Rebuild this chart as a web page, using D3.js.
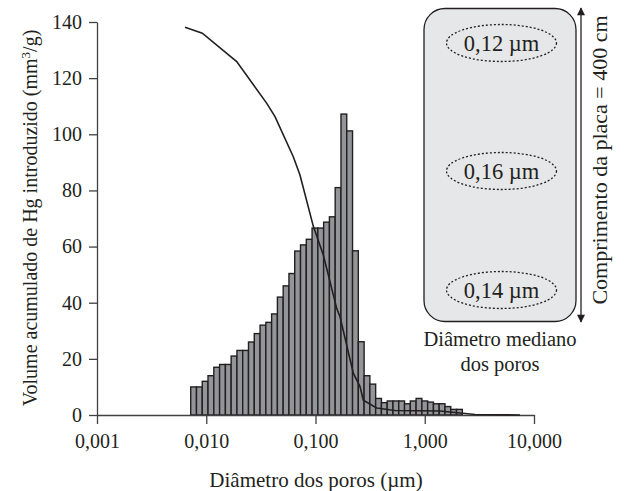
<!DOCTYPE html>
<html>
<head>
<meta charset="utf-8">
<script src="https://cdn.jsdelivr.net/npm/d3@7"></script>
<style>
    body { margin: 0; background: #fff; }
    #chart { width: 625px; height: 491px; }
    text { font-family: "Liberation Serif", "Times New Roman", serif; fill: #231f20; }
</style>
</head>
<body>
<div id="chart"></div>
<script>

// bin edges of the histogram (µm)
let binEdges = [0.00721, 0.00814, 0.00919, 0.01038, 0.01173, 0.01325, 0.01497, 0.01690, 0.01910, 0.02157,
    0.02436, 0.02752, 0.03108, 0.03511, 0.03966, 0.04480, 0.05060, 0.05715, 0.06455, 0.07292,
    0.08236, 0.09303, 0.1051, 0.1187, 0.1341, 0.1514, 0.1711, 0.1932, 0.2183, 0.2465,
    0.2785, 0.3145, 0.3553, 0.4013, 0.4533, 0.5120, 0.5783, 0.6531, 0.7378, 0.8333,
    0.9412, 1.063, 1.201, 1.356, 1.532, 1.730, 1.954, 2.208];

// incremental volume per bin
let binValues = [10, 10, 12, 14, 17, 18, 18, 21, 23, 23,
    26, 29, 32, 33, 36, 42, 46, 50.4, 58.4, 60.6,
    62.6, 66.6, 66.6, 68.7, 70.6, 81, 107.2, 101.2, 58.5, 26.1,
    14, 11, 5.9, 4.4, 5, 5, 5, 4, 5, 5.9,
    5, 4.6, 4, 4, 3, 2, 2];

// cumulative intrusion curve
let curveDiam = [0.00639, 0.0092, 0.019, 0.0358, 0.0426, 0.0626, 0.0721, 0.0954, 0.1179, 0.1563,
    0.1676, 0.2218, 0.2555, 0.274, 0.363, 0.534, 1.379, 2.884, 7.45];
let curveVol = [138.1, 136.0, 125.9, 111.0, 106.3, 92.0, 85.5, 67.3, 57.0, 38.0,
    35.0, 14.9, 10.1, 5.3, 2.5, 1.6, 1.4, 0.2, 0];

let xTicks = [0.001, 0.01, 0.1, 1, 10];
let xTickLabels = ["0,001", "0,010", "0,100", "1,000", "10,000"];
let yTicks = [0, 20, 40, 60, 80, 100, 120, 140];

let medianLabels = ["0,12 µm", "0,16 µm", "0,14 µm"];


class PoreChart {

    constructor(parentElement) {
        this.parentElement = parentElement;
        this.initVis();
    }

    initVis() {
        let vis = this;

        vis.svg = d3.select("#" + vis.parentElement).append("svg")
            .attr("width", 625)
            .attr("height", 491);

        vis.x = d3.scaleLog()
            .domain([0.001, 10])
            .range([97, 534]);

        vis.y = d3.scaleLinear()
            .domain([0, 140])
            .range([415, 22]);

        vis.bins = binValues.map((v, i) => ({x0: binEdges[i], x1: binEdges[i + 1], v: v}));
        vis.curve = curveDiam.map((d, i) => ({d: d, v: curveVol[i]}));

        vis.updateVis();
    }

    updateVis() {
        let vis = this;

        // bars
        vis.svg.append("g")
            .selectAll("rect")
            .data(vis.bins)
            .join("rect")
            .attr("x", d => vis.x(d.x0))
            .attr("width", d => vis.x(d.x1) - vis.x(d.x0))
            .attr("y", d => vis.y(d.v))
            .attr("height", d => vis.y(0) - vis.y(d.v))
            .attr("fill", "#939598")
            .attr("stroke", "#231f20")
            .attr("stroke-width", 1.4);

        // axes
        let yAxis = d3.axisLeft(vis.y)
            .tickValues(yTicks)
            .tickSize(8)
            .tickSizeOuter(0)
            .tickPadding(7);

        let xAxis = d3.axisBottom(vis.x)
            .tickValues(xTicks)
            .tickFormat((d, i) => xTickLabels[i])
            .tickSize(9)
            .tickSizeOuter(0)
            .tickPadding(10);

        let gy = vis.svg.append("g")
            .attr("transform", "translate(97,0)")
            .call(yAxis);

        let gx = vis.svg.append("g")
            .attr("transform", "translate(0,415)")
            .call(xAxis);

        [gx, gy].forEach(g => {
            g.selectAll("path, line").attr("stroke", "#414042").attr("stroke-width", 1.3);
            g.selectAll("text")
                .attr("font-family", "Liberation Serif")
                .attr("font-size", 20)
                .attr("fill", "#231f20");
        });

        // cumulative curve
        let line = d3.line()
            .x(d => vis.x(d.d))
            .y(d => vis.y(d.v));

        vis.svg.append("path")
            .datum(vis.curve)
            .attr("d", line)
            .attr("fill", "none")
            .attr("stroke", "#231f20")
            .attr("stroke-width", 1.6);

        // axis titles
        vis.svg.append("text")
            .attr("x", 316)
            .attr("y", 487)
            .attr("text-anchor", "middle")
            .attr("font-size", 21)
            .text("Diâmetro dos poros (µm)");

        let yTitle = vis.svg.append("text")
            .attr("transform", "translate(37,218) rotate(-90)")
            .attr("text-anchor", "middle")
            .attr("font-size", 20);
        yTitle.append("tspan").text("Volume acumulado de Hg introduzido (mm");
        yTitle.append("tspan").attr("font-size", 13).attr("dy", -7).text("3");
        yTitle.append("tspan").attr("dy", 7).text("/g)");

        vis.drawPlate();
    }

    drawPlate() {
        let vis = this;

        let plate = vis.svg.append("g");

        plate.append("rect")
            .attr("x", 424)
            .attr("y", 8.5)
            .attr("width", 152)
            .attr("height", 313)
            .attr("rx", 21)
            .attr("fill", "#e6e7e8")
            .attr("stroke", "#231f20")
            .attr("stroke-width", 1.3);

        let centers = [43, 171, 290];
        medianLabels.forEach((label, i) => {
            plate.append("ellipse")
                .attr("cx", 501.5)
                .attr("cy", centers[i])
                .attr("rx", 55)
                .attr("ry", 18.5)
                .attr("fill", "none")
                .attr("stroke", "#231f20")
                .attr("stroke-width", 1.3)
                .attr("stroke-dasharray", "2,2");

            plate.append("text")
                .attr("x", 501.5)
                .attr("y", centers[i] + 7.5)
                .attr("text-anchor", "middle")
                .attr("font-size", 22.5)
                .text(label);
        });

        plate.append("text")
            .attr("x", 500)
            .attr("y", 346)
            .attr("text-anchor", "middle")
            .attr("font-size", 20.5)
            .text("Diâmetro mediano");

        plate.append("text")
            .attr("x", 500)
            .attr("y", 371)
            .attr("text-anchor", "middle")
            .attr("font-size", 20.5)
            .text("dos poros");

        // double arrow for plate length
        let defs = vis.svg.append("defs");
        defs.append("marker")
            .attr("id", "arrow")
            .attr("viewBox", "0 0 10 10")
            .attr("refX", 9)
            .attr("refY", 5)
            .attr("markerWidth", 12)
            .attr("markerHeight", 8)
            .attr("markerUnits", "userSpaceOnUse")
            .attr("orient", "auto-start-reverse")
            .append("path")
            .attr("d", "M0,0 L10,5 L0,10 Z")
            .attr("fill", "#231f20");

        plate.append("line")
            .attr("x1", 581)
            .attr("x2", 581)
            .attr("y1", 8)
            .attr("y2", 322)
            .attr("stroke", "#231f20")
            .attr("stroke-width", 1.3)
            .attr("marker-start", "url(#arrow)")
            .attr("marker-end", "url(#arrow)");

        plate.append("text")
            .attr("transform", "translate(607,160) rotate(-90)")
            .attr("text-anchor", "middle")
            .attr("font-size", 22)
            .text("Comprimento da placa = 400 cm");
    }
}

let chart = new PoreChart("chart");

</script>
</body>
</html>
